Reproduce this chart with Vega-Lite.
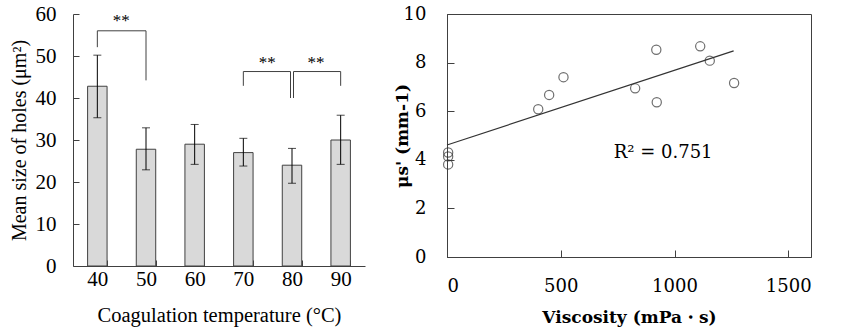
{
  "$schema": "https://vega.github.io/schema/vega-lite/v6.json",
  "background": "white",
  "padding": {"left": 8, "top": 3, "right": 5, "bottom": 5},
  "spacing": 27,
  "config": {
    "view": {"stroke": null},
    "axis": {"grid": false, "domainColor": "#404040", "tickColor": "#404040", "labelColor": "black", "titleColor": "black", "titleFontWeight": "normal"}
  },
  "datasets": {
    "bars": [
      {"temp": "40", "mean": 42.8, "lo": 35.3, "hi": 50.2},
      {"temp": "50", "mean": 27.8, "lo": 22.9, "hi": 32.9},
      {"temp": "60", "mean": 29.0, "lo": 24.2, "hi": 33.7},
      {"temp": "70", "mean": 27.0, "lo": 23.8, "hi": 30.4},
      {"temp": "80", "mean": 24.0, "lo": 19.7, "hi": 28.0},
      {"temp": "90", "mean": 30.0, "lo": 24.2, "hi": 35.9}
    ],
    "hsegA": [
      {"a": "40", "b": "50", "y": 56.0}
    ],
    "hsegB": [
      {"a": "70", "b": "80", "y": 46.3}
    ],
    "hsegC": [
      {"a": "80", "b": "90", "y": 46.3}
    ],
    "vseg": [
      {"t": "40", "y1": 52.1, "y2": 56.0},
      {"t": "50", "y1": 44.2, "y2": 56.0},
      {"t": "70", "y1": 42.9, "y2": 46.3},
      {"t": "90", "y1": 42.9, "y2": 46.3}
    ],
    "vseg80": [
      {"t": "80", "y1": 40.0, "y2": 46.3}
    ],
    "stars": [
      {"t": "40", "y": 58.3, "label": "**"},
      {"t": "70", "y": 48.3, "label": "**"},
      {"t": "80", "y": 48.3, "label": "**"}
    ],
    "pts": [
      {"visc": 5, "mus": 4.30},
      {"visc": 5, "mus": 4.14},
      {"visc": 5, "mus": 3.81},
      {"visc": 401, "mus": 6.08},
      {"visc": 449, "mus": 6.67},
      {"visc": 512, "mus": 7.40},
      {"visc": 827, "mus": 6.94},
      {"visc": 920, "mus": 8.53},
      {"visc": 922, "mus": 6.37},
      {"visc": 1113, "mus": 8.67},
      {"visc": 1155, "mus": 8.08},
      {"visc": 1262, "mus": 7.16}
    ],
    "fit": [
      {"visc": 0, "mus": 4.61},
      {"visc": 1260, "mus": 8.48}
    ],
    "ann": [
      {"visc": 950, "mus": 4.3, "label": "R² = 0.751"}
    ]
  },
  "hconcat": [
    {
      "width": 292,
      "height": 252,
      "layer": [
        {
          "data": {"name": "bars"},
          "mark": {"type": "bar", "fill": "#d9d9d9", "stroke": "#404040", "strokeWidth": 1},
          "encoding": {
            "x": {"field": "temp", "type": "ordinal",
              "scale": {"paddingInner": 0.6, "paddingOuter": 0.3},
              "axis": {"labelAngle": 0, "tickBand": "extent", "tickSize": -6, "labelPadding": 8,
                "labelFont": "Liberation Serif", "labelFontSize": 21,
                "title": "Coagulation temperature (°C)", "titleFont": "Liberation Serif", "titleFontSize": 20.5, "titlePadding": 16}},
            "y": {"field": "mean", "type": "quantitative",
              "scale": {"domain": [0, 60]},
              "axis": {"values": [0, 10, 20, 30, 40, 50, 60], "tickSize": -6, "labelPadding": 23,
                "labelFont": "Liberation Serif", "labelFontSize": 21,
                "title": "Mean size of holes (μm²)", "titleFont": "Liberation Serif", "titleFontSize": 20, "titleX": -54, "titleBaseline": "middle"}}
          }
        },
        {
          "data": {"name": "bars"},
          "mark": {"type": "rule", "color": "black", "strokeWidth": 1},
          "encoding": {
            "x": {"field": "temp", "type": "ordinal"},
            "y": {"field": "lo", "type": "quantitative"},
            "y2": {"field": "hi"}
          }
        },
        {
          "data": {"name": "bars"},
          "mark": {"type": "tick", "color": "black", "thickness": 1, "size": 8},
          "encoding": {
            "x": {"field": "temp", "type": "ordinal"},
            "y": {"field": "lo", "type": "quantitative"}
          }
        },
        {
          "data": {"name": "bars"},
          "mark": {"type": "tick", "color": "black", "thickness": 1, "size": 8},
          "encoding": {
            "x": {"field": "temp", "type": "ordinal"},
            "y": {"field": "hi", "type": "quantitative"}
          }
        },
        {
          "data": {"name": "hsegA"},
          "mark": {"type": "rule", "color": "#404040", "strokeWidth": 1},
          "encoding": {
            "x": {"field": "a", "type": "ordinal"},
            "x2": {"field": "b"},
            "y": {"field": "y", "type": "quantitative"}
          }
        },
        {
          "data": {"name": "hsegB"},
          "mark": {"type": "rule", "color": "#404040", "strokeWidth": 1, "x2Offset": -1.5},
          "encoding": {
            "x": {"field": "a", "type": "ordinal"},
            "x2": {"field": "b"},
            "y": {"field": "y", "type": "quantitative"}
          }
        },
        {
          "data": {"name": "hsegC"},
          "mark": {"type": "rule", "color": "#404040", "strokeWidth": 1, "xOffset": 1.5},
          "encoding": {
            "x": {"field": "a", "type": "ordinal"},
            "x2": {"field": "b"},
            "y": {"field": "y", "type": "quantitative"}
          }
        },
        {
          "data": {"name": "vseg"},
          "mark": {"type": "rule", "color": "#404040", "strokeWidth": 1},
          "encoding": {
            "x": {"field": "t", "type": "ordinal"},
            "y": {"field": "y1", "type": "quantitative"},
            "y2": {"field": "y2"}
          }
        },
        {
          "data": {"name": "vseg80"},
          "mark": {"type": "rule", "color": "#404040", "strokeWidth": 1, "xOffset": -1.5},
          "encoding": {
            "x": {"field": "t", "type": "ordinal"},
            "y": {"field": "y1", "type": "quantitative"},
            "y2": {"field": "y2"}
          }
        },
        {
          "data": {"name": "vseg80"},
          "mark": {"type": "rule", "color": "#404040", "strokeWidth": 1, "xOffset": 1.5},
          "encoding": {
            "x": {"field": "t", "type": "ordinal"},
            "y": {"field": "y1", "type": "quantitative"},
            "y2": {"field": "y2"}
          }
        },
        {
          "data": {"name": "stars"},
          "mark": {"type": "text", "font": "Liberation Serif", "fontSize": 17, "xOffset": 24, "color": "black"},
          "encoding": {
            "x": {"field": "t", "type": "ordinal"},
            "y": {"field": "y", "type": "quantitative"},
            "text": {"field": "label"}
          }
        }
      ]
    },
    {
      "width": 364,
      "height": 243,
      "view": {"stroke": "#404040", "strokeWidth": 1},
      "layer": [
        {
          "data": {"name": "fit"},
          "mark": {"type": "line", "color": "#333333", "strokeWidth": 1.2},
          "encoding": {
            "x": {"field": "visc", "type": "quantitative",
              "scale": {"domain": [0, 1500]},
              "axis": {"values": [0, 500, 1000, 1500], "format": "d", "tickSize": -7, "labelPadding": 27,
                "labelFont": "DejaVu Serif", "labelFontSize": 18,
                "title": "Viscosity (mPa・s)", "titleFont": "DejaVu Serif", "titleFontSize": 17, "titleFontWeight": "bold", "titlePadding": 14}},
            "y": {"field": "mus", "type": "quantitative",
              "scale": {"domain": [0, 10]},
              "axis": {"values": [0, 2, 4, 6, 8, 10], "format": "d", "tickSize": -7, "labelPadding": 28,
                "labelFont": "DejaVu Serif", "labelFontSize": 18,
                "title": "μs' (mm-1)", "titleFont": "DejaVu Serif", "titleFontSize": 17, "titleFontWeight": "bold", "titleX": -45, "titleBaseline": "middle"}}
          }
        },
        {
          "data": {"name": "pts"},
          "mark": {"type": "point", "shape": "circle", "filled": false, "stroke": "#333333", "strokeWidth": 1.2, "size": 85},
          "encoding": {
            "x": {"field": "visc", "type": "quantitative"},
            "y": {"field": "mus", "type": "quantitative"}
          }
        },
        {
          "data": {"name": "ann"},
          "mark": {"type": "text", "font": "DejaVu Serif", "fontSize": 18, "color": "black"},
          "encoding": {
            "x": {"field": "visc", "type": "quantitative"},
            "y": {"field": "mus", "type": "quantitative"},
            "text": {"field": "label"}
          }
        }
      ]
    }
  ]
}
